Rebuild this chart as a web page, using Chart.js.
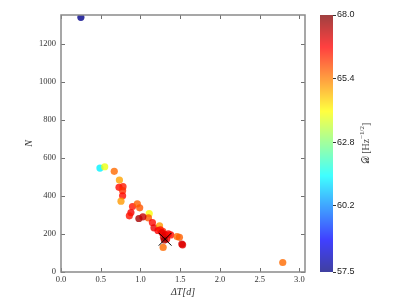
<!DOCTYPE html>
<html><head><meta charset="utf-8">
<script src="https://cdn.jsdelivr.net/npm/chart.js@4/dist/chart.umd.min.js"></script>
<style>
html,body{margin:0;padding:0;background:#fff;}
#wrap{position:relative;width:407px;height:303px;}
canvas{position:absolute;left:0;top:0;}
</style>
</head><body>
<div id="wrap"><canvas id="main" width="407" height="303"></canvas><canvas id="cb" width="407" height="303"></canvas></div>
<script>
// ---- data ----
const deltaT = [0.25, 0.49, 0.55, 0.67, 0.735, 0.73, 0.78, 0.775, 0.775, 0.755,
  0.90, 0.88, 0.86, 0.96, 0.99, 1.11, 1.10, 0.98, 1.03, 1.15,
  1.17, 1.24, 1.22, 1.25, 1.28, 1.27, 1.31, 1.35, 1.38, 1.29,
  1.33, 1.30, 1.46, 1.49, 1.52, 1.53, 1.285, 2.79];
const countN = [1338, 546, 553, 529, 483, 445, 448, 427, 400, 372,
  344, 312, 295, 358, 337, 307, 284, 281, 290, 260,
  232, 242, 218, 222, 213, 207, 195, 200, 195, 183,
  173, 168, 186, 182, 147, 143, 129, 50];
const dValues = [57.6, 61.3, 63.9, 65.6, 65.0, 66.6, 66.4, 66.2, 66.6, 65.1,
  66.5, 66.8, 66.5, 65.7, 65.8, 64.0, 65.8, 67.6, 67.3, 66.6,
  66.9, 65.1, 66.7, 66.5, 66.3, 66.9, 67.0, 66.8, 66.6, 67.0,
  66.8, 67.6, 65.6, 65.7, 67.2, 67.0, 65.6, 65.6];
const bestDeltaT = [1.31];
const bestN = [172];
const xTicks = [0, 0.5, 1.0, 1.5, 2.0, 2.5, 3.0];
const yTicks = [0, 200, 400, 600, 800, 1000, 1200];
const cbTicks = [57.5, 60.2, 62.8, 65.4, 68.0];
const D_MIN = 57.5, D_MAX = 68.0;

// jet colormap
function cl(v){return Math.max(0,Math.min(1,v));}
function jet(t,a){
  t=cl(t);
  const r=cl(1.5-Math.abs(4*t-3)), g=cl(1.5-Math.abs(4*t-2)), b=cl(1.5-Math.abs(4*t-1));
  return `rgba(${Math.round(r*255)},${Math.round(g*255)},${Math.round(b*255)},${a})`;
}
const serif = "'Liberation Serif', 'DejaVu Serif', serif";

const framePlugin = {
  id:'frame',
  afterDatasetsDraw(chart){
    const {ctx, chartArea:a, scales:{x,y}} = chart;
    ctx.save();
    ctx.strokeStyle='#707070'; ctx.lineWidth=1;
    const line=(x1,y1,x2,y2)=>{ctx.beginPath();ctx.moveTo(x1,y1);ctx.lineTo(x2,y2);ctx.stroke();};
    x.ticks.forEach(t=>{const p=Math.round(x.getPixelForValue(t.value))+0.5; line(p,a.bottom,p,a.bottom-4); line(p,a.top,p,a.top+4);});
    y.ticks.forEach(t=>{const p=Math.round(y.getPixelForValue(t.value))+0.5; line(a.left,p,a.left+4,p); line(a.right,p,a.right-4,p);});
    ctx.strokeStyle='#8a8a8a'; ctx.lineWidth=1.5;
    ctx.strokeRect(a.left,a.top,a.right-a.left,a.bottom-a.top);
    ctx.restore();
  }
};

new Chart(document.getElementById('main'), {
  type:'scatter',
  data:{datasets:[
    {data: bestDeltaT.map((x,i)=>({x, y: bestN[i]})), pointStyle:'crossRot', pointRadius:9,
     pointBorderColor:'#000', pointBorderWidth:1, pointBackgroundColor:'rgba(0,0,0,0)', order:1},
    {data: deltaT.map((x,i)=>({x, y: countN[i]})),
     pointBackgroundColor: dValues.map(v=>jet((v-D_MIN)/(D_MAX-D_MIN),0.8)),
     pointBorderWidth:0, pointRadius:3.6, clip:0, order:2}
  ]},
  options:{
    responsive:false, animation:false, events:[],
    plugins:{legend:{display:false}, tooltip:{enabled:false}},
    layout:{padding:{top:15,right:102,left:0,bottom:0}},
    scales:{
      x:{type:'linear', min:0, max:3.07,
        afterBuildTicks:s=>{s.ticks=xTicks.map(v=>({value:v}));},
        afterFit:s=>{s.height=31;},
        grid:{display:false, drawTicks:false, tickLength:0}, border:{display:false},
        ticks:{padding:3, color:'#333', font:{family:serif,size:8.5}, maxRotation:0, autoSkip:false, callback:v=>Number(v).toFixed(1)},
        title:{display:true, text:'ΔT[d]', color:'#333', font:{family:serif,size:10,style:'italic'}, padding:{top:0,bottom:5}}
      },
      y:{type:'linear', min:0, max:1350,
        afterBuildTicks:s=>{s.ticks=yTicks.map(v=>({value:v}));},
        afterFit:s=>{s.width=61;},
        grid:{display:false, drawTicks:false, tickLength:0}, border:{display:false},
        ticks:{padding:5, color:'#333', font:{family:serif,size:8.5}, autoSkip:false, callback:v=>String(v)},
        title:{display:true, text:'N', color:'#333', font:{family:serif,size:10,style:'italic'}, padding:{top:23,bottom:0}}
      }
    }
  },
  plugins:[framePlugin]
});

const cbPlugin = {
  id:'cbar',
  beforeDatasetsDraw(chart){
    const {ctx, chartArea:a, scales:{y}} = chart;
    ctx.save();
    for(let p=Math.floor(a.top); p<Math.ceil(a.bottom); p++){
      const v=y.getValueForPixel(p+0.5);
      ctx.fillStyle=jet((v-D_MIN)/(D_MAX-D_MIN),0.75);
      ctx.fillRect(a.left,p,a.right-a.left,1);
    }
    ctx.restore();
  },
  afterDraw(chart){
    const {ctx, chartArea:a} = chart;
    ctx.save();
    ctx.fillStyle='#444';
    const big="10px "+serif, small="7px "+serif;
    const p1='𝒟 [Hz', p2='−1/2', p3=']';
    ctx.font=big; const w1=ctx.measureText(p1).width, w3=ctx.measureText(p3).width;
    ctx.font=small; const w2=ctx.measureText(p2).width;
    const tot=w1+w2+w3;
    ctx.translate(366,(a.top+a.bottom)/2);
    ctx.rotate(-Math.PI/2);
    ctx.textBaseline='middle'; ctx.textAlign='left';
    let x0=-tot/2;
    ctx.font=big; ctx.fillText(p1,x0,0); x0+=w1;
    ctx.font=small; ctx.fillText(p2,x0,-4); x0+=w2;
    ctx.font=big; ctx.fillText(p3,x0,0);
    ctx.restore();
  }
};

new Chart(document.getElementById('cb'), {
  type:'scatter',
  data:{datasets:[]},
  options:{
    responsive:false, animation:false, events:[],
    plugins:{legend:{display:false}, tooltip:{enabled:false}},
    layout:{padding:{left:320,right:0,top:15,bottom:31}},
    scales:{
      x:{display:false, min:0, max:1},
      y:{position:'right', min:D_MIN, max:D_MAX,
        afterBuildTicks:s=>{s.ticks=cbTicks.map(v=>({value:v}));},
        afterFit:s=>{s.width=74;},
        grid:{display:true, drawOnChartArea:false, drawTicks:true, tickLength:3, color:'#333'},
        border:{display:false},
        ticks:{padding:1, color:'#222', font:{family:"'Liberation Sans', Arial, sans-serif", size:9}, autoSkip:false, callback:v=>Number(v).toFixed(1)}
      }
    }
  },
  plugins:[cbPlugin]
});
</script>
</body></html>
